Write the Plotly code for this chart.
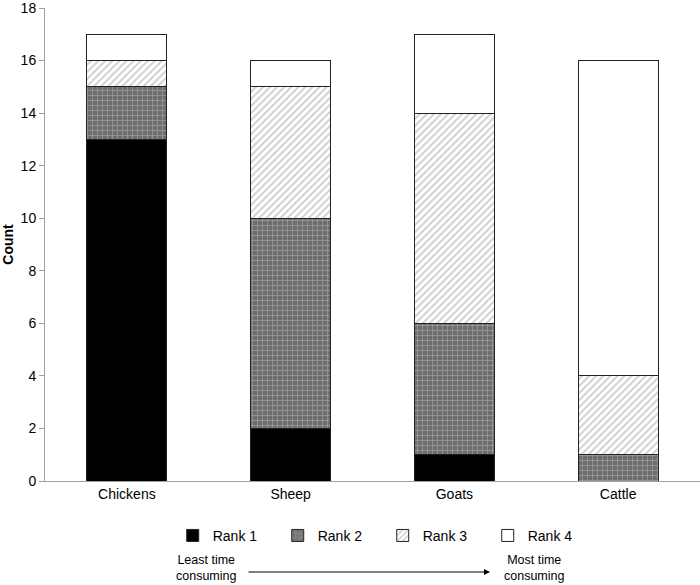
import plotly.graph_objects as go

categories = ["Chickens", "Sheep", "Goats", "Cattle"]
rank1 = [13, 2, 1, 0]
rank2 = [2, 8, 5, 1]
rank3 = [1, 5, 8, 3]
rank4 = [1, 1, 3, 12]
y_ticks = [0, 2, 4, 6, 8, 10, 12, 14, 16, 18]

FONT = "Liberation Sans, Arial, sans-serif"
line = dict(color="#222222", width=1)

fig = go.Figure()
fig.add_trace(go.Bar(name="Rank 1", x=categories, y=rank1,
                     marker=dict(color="black", line=line)))
fig.add_trace(go.Bar(name="Rank 2", x=categories, y=rank2,
                     marker=dict(color="#6e6e6e", line=line,
                                 pattern=dict(shape="+", fgcolor="#eeeeee", size=5,
                                              solidity=0.2, fillmode="overlay"))))
fig.add_trace(go.Bar(name="Rank 3", x=categories, y=rank3,
                     marker=dict(color="white", line=line,
                                 pattern=dict(shape="/", fgcolor="#a0a0a0", size=5,
                                              solidity=0.4, fillmode="overlay"))))
fig.add_trace(go.Bar(name="Rank 4", x=categories, y=rank4,
                     marker=dict(color="white", line=line)))

fig.update_layout(
    barmode="stack",
    bargap=0.51,
    width=700, height=585,
    margin=dict(l=45, r=0, t=8, b=104),
    paper_bgcolor="white", plot_bgcolor="white",
    font=dict(family=FONT, size=14, color="black"),
    showlegend=True,
    legend=dict(orientation="h", x=0.195, xanchor="left", y=-0.116, yanchor="middle",
                entrywidth=60, entrywidthmode="pixels", traceorder="normal",
                font=dict(size=14), itemwidth=30, bgcolor="rgba(0,0,0,0)"),
    xaxis=dict(showline=True, linecolor="#a0a0a0", linewidth=1, ticks="",
               showgrid=False, tickfont=dict(size=14), automargin=False),
    yaxis=dict(range=[0, 18], tickvals=y_ticks, showline=True, linecolor="#a0a0a0",
               linewidth=1, ticks="outside", ticklen=5, tickcolor="#a0a0a0",
               showgrid=False, zeroline=False, tickfont=dict(size=14),
               ticklabeloverflow="allow", automargin=False,
               title=dict(text="<b>Count</b>", font=dict(size=14), standoff=10)),
)

fig.add_annotation(xref="paper", yref="paper", x=(206 - 45) / 655, y=(481 - 568) / 473,
                   text="Least time<br>consuming", showarrow=False,
                   xanchor="center", yanchor="middle",
                   font=dict(size=12.5), align="center")
fig.add_annotation(xref="paper", yref="paper", x=(534 - 45) / 655, y=(481 - 568) / 473,
                   text="Most time<br>consuming", showarrow=False,
                   xanchor="center", yanchor="middle",
                   font=dict(size=12.5), align="center")
fig.add_annotation(xref="paper", yref="paper", x=(490 - 45) / 655, y=(481 - 572) / 473,
                   ax=-243, ay=0, text="", showarrow=True, arrowhead=2,
                   arrowsize=1.2, arrowwidth=1, arrowcolor="black")

fig.write_html("out.html")
